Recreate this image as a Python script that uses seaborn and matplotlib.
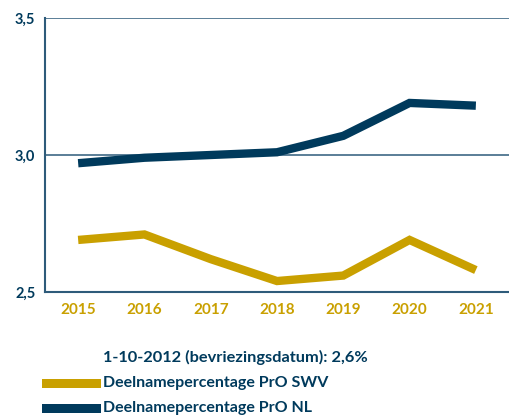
import matplotlib
matplotlib.use("Agg")
import matplotlib.pyplot as plt
import seaborn as sns
import pandas as pd
from matplotlib.patches import Rectangle

years = ["2015", "2016", "2017", "2018", "2019", "2020", "2021"]
swv = [2.69, 2.71, 2.62, 2.54, 2.56, 2.69, 2.58]
nl = [2.97, 2.99, 3.00, 3.01, 3.07, 3.19, 3.18]
series_names = ["Deelnamepercentage PrO SWV", "Deelnamepercentage PrO NL"]
note = "1-10-2012 (bevriezingsdatum): 2,6%"
yticks = [2.5, 3.0, 3.5]
ytick_labels = ["2,5", "3,0", "3,5"]

NAVY = "#003a5c"
GOLD = "#c9a000"
AXIS = "#2e5b7a"

sns.set_theme(style="white")
plt.rcParams['font.family'] = ['Lato', 'DejaVu Sans']
plt.rcParams['font.weight'] = 'bold'

df = pd.DataFrame({
    "year": years * 2,
    "value": swv + nl,
    "series": [series_names[0]] * len(years) + [series_names[1]] * len(years),
})
df["x"] = list(range(len(years))) * 2

fig = plt.figure(figsize=(5.09, 4.15), dpi=100)
ax = fig.add_axes([45 / 509, 1 - 292 / 415, 1 - 45 / 509, (292 - 18) / 415])

sns.lineplot(data=df, x="x", y="value", hue="series",
             palette={series_names[0]: GOLD, series_names[1]: NAVY},
             linewidth=6, legend=False, ax=ax, sort=False)
for ln in ax.lines:
    ln.set_solid_capstyle('butt')
    ln.set_solid_joinstyle('miter')

ax.set_xlim(-0.5, len(years) - 0.5)
ax.set_ylim(2.5, 3.5)
ax.set_xticks(range(len(years)))
ax.set_xticklabels(years)
ax.set_yticks(yticks)
ax.set_yticklabels(ytick_labels)
ax.set_xlabel("")
ax.set_ylabel("")

for y in [3.0, 3.5]:
    ax.axhline(y, color=AXIS, linewidth=1.1, zorder=0)

for s in ["top", "right"]:
    ax.spines[s].set_visible(False)
for s in ["left", "bottom"]:
    ax.spines[s].set_color(AXIS)
    ax.spines[s].set_linewidth(1.5)

ax.tick_params(axis="x", colors=GOLD, labelsize=11, length=0, pad=8)
ax.tick_params(axis="y", colors=NAVY, labelsize=10.5, length=0, pad=7)
for t in ax.get_xticklabels():
    t.set_color(GOLD)
    t.set_fontweight('bold')
for t in ax.get_yticklabels():
    t.set_color(NAVY)
    t.set_fontweight('bold')

# legend area
fig.text(103 / 509, 1 - 357 / 415, note, color=NAVY, fontsize=11.8,
         fontweight='bold', va='center', ha='left')
for i, (name, col) in enumerate(zip(series_names, [GOLD, NAVY])):
    yc = 383 + i * 25
    fig.patches.append(Rectangle((42 / 509, 1 - (yc + 4.5) / 415), 59 / 509, 9 / 415,
                                 transform=fig.transFigure, facecolor=col,
                                 edgecolor='none'))
    fig.text(103 / 509, 1 - yc / 415, name, color=NAVY, fontsize=11.5,
             fontweight='bold', va='center', ha='left')

fig.savefig("out.png", dpi=100)
